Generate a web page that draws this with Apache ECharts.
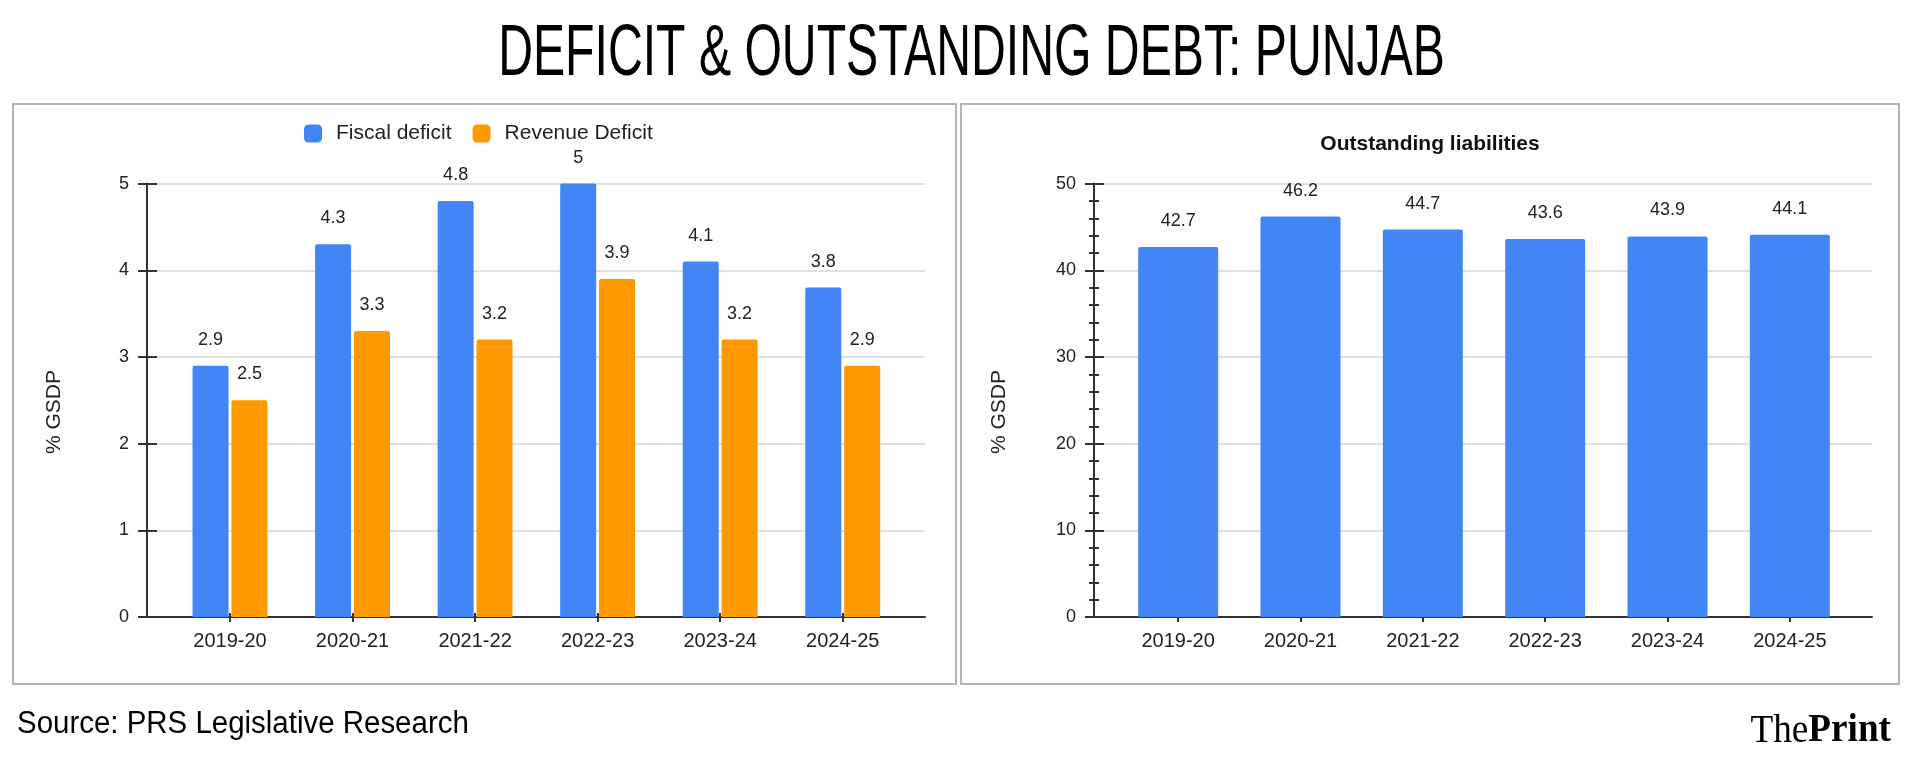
<!DOCTYPE html>
<html>
<head>
<meta charset="utf-8">
<script src="https://cdn.jsdelivr.net/npm/echarts@6/dist/echarts.min.js"></script>
<style>
html,body{margin:0;padding:0;background:#fff;}
#chart{width:1914px;height:765px;}
</style>
</head>
<body>
<div id="chart"></div>
<script>
const categories = ['2019-20', '2020-21', '2021-22', '2022-23', '2023-24', '2024-25'];
const fiscalDeficit = [2.9, 4.3, 4.8, 5, 4.1, 3.8];
const revenueDeficit = [2.5, 3.3, 3.2, 3.9, 3.2, 2.9];
const outstandingLiabilities = [42.7, 46.2, 44.7, 43.6, 43.9, 44.1];
const leftAxis = { min: 0, max: 5, interval: 1 };
const rightAxis = { min: 0, max: 50, interval: 10 };
const mainTitle = 'DEFICIT & OUTSTANDING DEBT: PUNJAB';
const rightTitle = 'Outstanding liabilities';
const yName = '% GSDP';
const sourceText = 'Source: PRS Legislative Research';

const FONT = "'Liberation Sans', Arial, sans-serif";
const TXT = '#222';
const AX = '#333';
const TOP = 183.6, H = 433.4;
const XL = 20, YL = 18, DL = 18;

const chart = echarts.init(document.getElementById('chart'), null, { renderer: 'canvas' });

const option = {
  animation: false,
  backgroundColor: '#fff',
  textStyle: { fontFamily: FONT },
  legend: {
    data: ['Fiscal deficit', 'Revenue Deficit'],
    left: 304, top: 123, padding: 0,
    icon: 'roundRect', itemWidth: 18, itemHeight: 18, itemGap: 21,
    textStyle: { fontSize: 21, color: TXT, fontFamily: FONT, padding: [0, 0, 0, 9] }
  },
  grid: [
    { left: 168.7, top: TOP, width: 735.3, height: H },
    { left: 147, top: TOP, width: 778, height: H },
    { left: 1117, top: TOP, width: 734, height: H },
    { left: 1094, top: TOP, width: 778, height: H }
  ],
  xAxis: [
    { gridIndex: 0, type: 'category', data: categories, position: 'bottom',
      axisLine: { show: false },
      axisTick: { show: true, alignWithLabel: true, length: 5, lineStyle: { color: AX, width: 2 } },
      axisLabel: { fontSize: XL, color: TXT, margin: 14, fontFamily: FONT },
      splitLine: { show: false } },
    { gridIndex: 0, type: 'category', data: categories, position: 'bottom',
      axisLine: { show: false },
      axisTick: { show: true, inside: true, alignWithLabel: true, length: 4, lineStyle: { color: AX, width: 2 } },
      axisLabel: { show: false }, splitLine: { show: false } },
    { gridIndex: 1, type: 'category', data: [''], position: 'bottom',
      axisLine: { show: true, lineStyle: { color: AX, width: 2 } },
      axisTick: { show: false }, axisLabel: { show: false }, splitLine: { show: false } },
    { gridIndex: 2, type: 'category', data: categories, position: 'bottom',
      axisLine: { show: false },
      axisTick: { show: true, alignWithLabel: true, length: 5, lineStyle: { color: AX, width: 2 } },
      axisLabel: { fontSize: XL, color: TXT, margin: 14, fontFamily: FONT },
      splitLine: { show: false } },
    { gridIndex: 2, type: 'category', data: categories, position: 'bottom',
      axisLine: { show: false },
      axisTick: { show: true, inside: true, alignWithLabel: true, length: 4, lineStyle: { color: AX, width: 2 } },
      axisLabel: { show: false }, splitLine: { show: false } },
    { gridIndex: 3, type: 'category', data: [''], position: 'bottom',
      axisLine: { show: true, lineStyle: { color: AX, width: 2 } },
      axisTick: { show: false }, axisLabel: { show: false }, splitLine: { show: false } }
  ],
  yAxis: [
    { gridIndex: 0, type: 'value', min: leftAxis.min, max: leftAxis.max, interval: leftAxis.interval, show: false },
    { gridIndex: 1, type: 'value', min: leftAxis.min, max: leftAxis.max, interval: leftAxis.interval, position: 'left',
      axisLine: { show: true, lineStyle: { color: AX, width: 2 } },
      axisTick: { show: true, length: 9, lineStyle: { color: AX, width: 2 } },
      axisLabel: { fontSize: YL, color: TXT, margin: 18, fontFamily: FONT },
      splitLine: { show: true, lineStyle: { color: '#d6d6d6', width: 1.5 } } },
    { gridIndex: 1, type: 'value', min: leftAxis.min, max: leftAxis.max, interval: leftAxis.interval, position: 'left',
      axisLine: { show: false },
      axisTick: { show: true, inside: true, length: 10, lineStyle: { color: AX, width: 2 } },
      axisLabel: { show: false }, splitLine: { show: false } },
    { gridIndex: 2, type: 'value', min: rightAxis.min, max: rightAxis.max, interval: rightAxis.interval, show: false },
    { gridIndex: 3, type: 'value', min: rightAxis.min, max: rightAxis.max, interval: rightAxis.interval, position: 'left',
      axisLine: { show: true, lineStyle: { color: AX, width: 2 } },
      axisTick: { show: true, length: 9, lineStyle: { color: AX, width: 2 } },
      minorTick: { show: true, splitNumber: 5, length: 5, lineStyle: { color: AX, width: 2 } },
      axisLabel: { fontSize: YL, color: TXT, margin: 18, fontFamily: FONT },
      splitLine: { show: true, lineStyle: { color: '#d6d6d6', width: 1.5 } } },
    { gridIndex: 3, type: 'value', min: rightAxis.min, max: rightAxis.max, interval: rightAxis.interval, position: 'left',
      axisLine: { show: false },
      axisTick: { show: true, inside: true, length: 10, lineStyle: { color: AX, width: 2 } },
      minorTick: { show: true, splitNumber: 5, length: 5, lineStyle: { color: AX, width: 2 } },
      axisLabel: { show: false }, splitLine: { show: false } }
  ],
  series: [
    { type: 'bar', name: 'Fiscal deficit', xAxisIndex: 0, yAxisIndex: 0, data: fiscalDeficit,
      barWidth: 36, barGap: '8%', z: 3,
      itemStyle: { color: '#4285f4', borderRadius: [2, 2, 0, 0] },
      label: { show: true, position: 'top', distance: 17, fontSize: DL, color: TXT, fontFamily: FONT } },
    { type: 'bar', name: 'Revenue Deficit', xAxisIndex: 0, yAxisIndex: 0, data: revenueDeficit,
      barWidth: 36, barGap: '8%', z: 3,
      itemStyle: { color: '#ff9900', borderRadius: [2, 2, 0, 0] },
      label: { show: true, position: 'top', distance: 17, fontSize: DL, color: TXT, fontFamily: FONT } },
    { type: 'bar', name: 'Outstanding liabilities', xAxisIndex: 3, yAxisIndex: 3, data: outstandingLiabilities,
      barWidth: 80, z: 3,
      itemStyle: { color: '#4285f4', borderRadius: [2, 2, 0, 0] },
      label: { show: true, position: 'top', distance: 17, fontSize: DL, color: TXT, fontFamily: FONT } }
  ],
  graphic: [
    { type: 'rect', z: -10, shape: { x: 13, y: 104, width: 943, height: 580 },
      style: { fill: 'none', stroke: '#b4b4b4', lineWidth: 2 } },
    { type: 'rect', z: -10, shape: { x: 961, y: 104, width: 938, height: 580 },
      style: { fill: 'none', stroke: '#b4b4b4', lineWidth: 2 } },
    { type: 'text', x: 971.5, y: 55, scaleX: 0.66,
      style: { text: mainTitle, font: "73px 'Liberation Sans', Arial, sans-serif", fill: '#000',
               textAlign: 'center', textVerticalAlign: 'middle' } },
    { type: 'text', x: 1430, y: 144,
      style: { text: rightTitle, font: "bold 21px 'Liberation Sans', Arial, sans-serif", fill: '#111',
               textAlign: 'center', textVerticalAlign: 'middle' } },
    { type: 'text', x: 54, y: 412, rotation: Math.PI / 2,
      style: { text: yName, font: "21px 'Liberation Sans', Arial, sans-serif", fill: TXT,
               textAlign: 'center', textVerticalAlign: 'middle' } },
    { type: 'text', x: 999, y: 412, rotation: Math.PI / 2,
      style: { text: yName, font: "21px 'Liberation Sans', Arial, sans-serif", fill: TXT,
               textAlign: 'center', textVerticalAlign: 'middle' } },
    { type: 'text', x: 17, y: 724, scaleX: 0.95,
      style: { text: sourceText, font: "31px 'Liberation Sans', Arial, sans-serif", fill: '#000',
               textAlign: 'left', textVerticalAlign: 'middle' } },
    { type: 'text', x: 1891, y: 731, scaleX: 0.93,
      style: { text: '{a|The}{b|Print}', textAlign: 'right', textVerticalAlign: 'middle',
               rich: {
                 a: { font: "40px 'Liberation Serif', 'Times New Roman', serif", fill: '#000' },
                 b: { font: "bold 40px 'Liberation Serif', 'Times New Roman', serif", fill: '#000' }
               } } }
  ]
};
chart.setOption(option);
</script>
</body>
</html>
